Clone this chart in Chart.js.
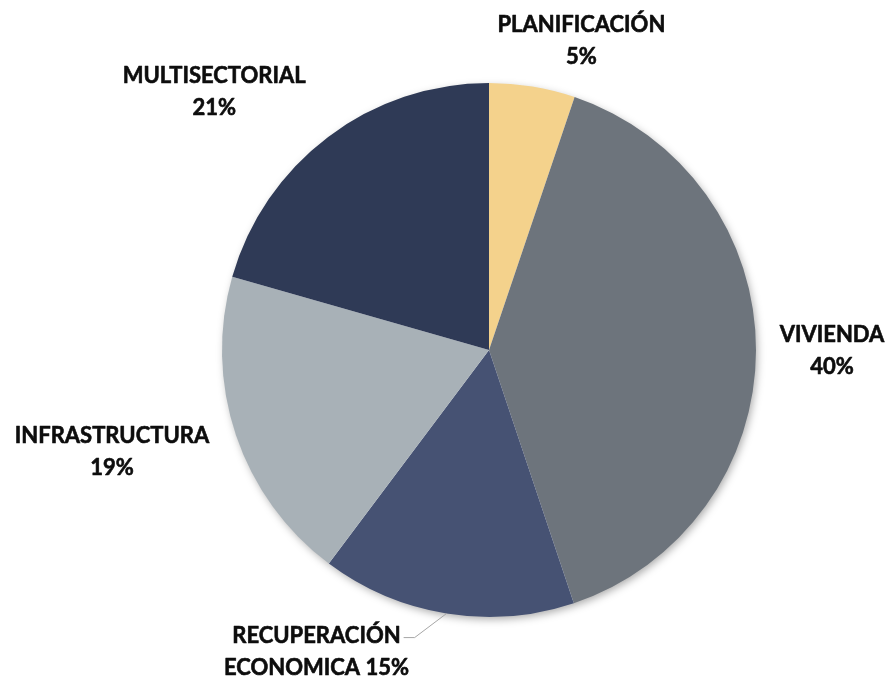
<!DOCTYPE html>
<html>
<head>
<meta charset="utf-8">
<script src="https://cdn.jsdelivr.net/npm/chart.js@4/dist/chart.umd.min.js"></script>
<style>
  html, body { margin: 0; padding: 0; background: #fff; }
  canvas { display: block; }
</style>
</head>
<body>
<canvas id="chart" width="890" height="681"></canvas>
<script>
// data (share of total, %)
var categories = ["PLANIFICACIÓN", "VIVIENDA", "RECUPERACIÓN ECONOMICA", "INFRASTRUCTURA", "MULTISECTORIAL"];
var shares = [5.2, 39.7, 15.4, 19.2, 20.6];
var sliceColors = ["#F4D28C", "#6D747C", "#465273", "#A8B1B7", "#2F3A56"];

// label nudges relative to the outer mid point of each slice
var labelOffsets = [[49, -46], [76, 0], [-130, 38], [-124, 17], [-114, -45]];

var shadowPlugin = {
  id: 'pieShadow',
  beforeDatasetsDraw: function(chart) {
    var arc = chart.getDatasetMeta(0).data[0];
    if (!arc) return;
    var ctx = chart.ctx;
    ctx.save();
    ctx.shadowColor = 'rgba(0,0,0,0.35)';
    ctx.shadowBlur = 8;
    ctx.shadowOffsetX = 2;
    ctx.shadowOffsetY = 3;
    ctx.fillStyle = '#ffffff';
    ctx.beginPath();
    ctx.arc(arc.x, arc.y, arc.outerRadius - 1, 0, Math.PI * 2);
    ctx.fill();
    ctx.restore();
  }
};

var labelPlugin = {
  id: 'outLabels',
  afterDatasetsDraw: function(chart) {
    var ctx = chart.ctx;
    var meta = chart.getDatasetMeta(0);
    var data = chart.data.datasets[0].data;
    var total = data.reduce(function(a, b) { return a + b; }, 0);
    ctx.save();
    ctx.font = 'bold 22px Lato, "Open Sans", sans-serif';
    ctx.fillStyle = '#0d0d0d';
    ctx.strokeStyle = '#0d0d0d';
    ctx.lineWidth = 0.6;
    ctx.lineJoin = 'round';
    ctx.textAlign = 'center';
    ctx.textBaseline = 'middle';
    for (var i = 0; i < meta.data.length; i++) {
      var el = meta.data[i];
      var mid = (el.startAngle + el.endAngle) / 2;
      var px = el.x + Math.cos(mid) * el.outerRadius;
      var py = el.y + Math.sin(mid) * el.outerRadius;
      var pct = Math.round(data[i] / total * 100) + '%';
      var name = chart.data.labels[i];
      var lines;
      var sp = name.indexOf(' ');
      if (sp > 0) {
        lines = [name.substring(0, sp), name.substring(sp + 1) + ' ' + pct];
      } else {
        lines = [name, pct];
      }
      var cx = px + labelOffsets[i][0];
      var cy = py + labelOffsets[i][1];
      var lh = 32;
      ctx.fillText(lines[0], cx, cy - lh / 2);
      ctx.strokeText(lines[0], cx, cy - lh / 2);
      ctx.fillText(lines[1], cx, cy + lh / 2);
      ctx.strokeText(lines[1], cx, cy + lh / 2);

      // leader line for labels that sit far from their slice
      if (sp > 0) {
        var w = ctx.measureText(lines[0]).width;
        var lx = cx + w / 2 + 3;
        var ly = cy - lh / 2 + 2;
        ctx.save();
        ctx.strokeStyle = '#a6a6a6';
        ctx.lineWidth = 1;
        ctx.beginPath();
        ctx.moveTo(lx, ly);
        ctx.lineTo(lx + 11, ly);
        ctx.lineTo(px, py);
        ctx.stroke();
        ctx.restore();
      }
    }
    ctx.restore();
  }
};

var ctx = document.getElementById('chart').getContext('2d');
var chart = new Chart(ctx, {
  type: 'pie',
  data: {
    labels: categories,
    datasets: [{
      data: shares,
      backgroundColor: sliceColors,
      borderWidth: 0
    }]
  },
  options: {
    responsive: false,
    animation: false,
    layout: { padding: { left: 222, right: 134, top: 83, bottom: 64 } },
    plugins: {
      legend: { display: false },
      tooltip: { enabled: false }
    }
  },
  plugins: [shadowPlugin, labelPlugin]
});
</script>
</body>
</html>
